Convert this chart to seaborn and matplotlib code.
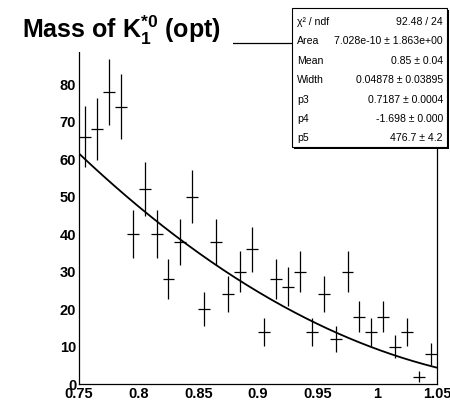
import numpy as np
import pandas as pd
import matplotlib
matplotlib.use("Agg")
import matplotlib.pyplot as plt
import seaborn as sns
from matplotlib.patches import Rectangle
from matplotlib.ticker import MultipleLocator, FixedLocator

# ---------------- data ----------------
bin_low = 0.75
bin_width = 0.01
counts = [66, 68, 78, 74, 40, 52, 40, 28, 38, 50,
          20, 38, 24, 30, 36, 14, 28, 26, 30, 14,
          24, 12, 30, 18, 14, 18, 10, 14, 2, 8]
x_ticks = [0.75, 0.8, 0.85, 0.9, 0.95, 1.0, 1.05]
x_tick_labels = ["0.75", "0.8", "0.85", "0.9", "0.95", "1", "1.05"]
y_ticks = [0, 10, 20, 30, 40, 50, 60, 70, 80]
y_tick_labels = ["0", "10", "20", "30", "40", "50", "60", "70", "80"]
stat_names = ["\u03c7\u00b2 / ndf", "Area", "Mean", "Width", "p3", "p4", "p5"]
stat_values = ["92.48 / 24", "7.028e-10 \u00b1 1.863e+00", "0.85 \u00b1 0.04",
               "0.04878 \u00b1 0.03895", "0.7187 \u00b1 0.0004",
               "-1.698 \u00b1 0.000", "476.7 \u00b1 4.2"]
title = r"Mass of K$_{1}^{*0}$ (opt)"

# background fit curve parameters (as drawn)
fit_amp = 61.5
fit_end = 1.16
fit_pow = 2.012
x_min, x_max = 0.75, 1.05
y_max = 91.0

# ---------------- style ----------------
sns.set_theme(style="white")
plt.rcParams["font.family"] = ["Liberation Sans", "DejaVu Sans"]
plt.rcParams["mathtext.fontset"] = "custom"
plt.rcParams["mathtext.rm"] = "Liberation Sans:bold"
plt.rcParams["mathtext.it"] = "Liberation Sans:bold"
plt.rcParams["mathtext.bf"] = "Liberation Sans:bold"

W, H = 450, 401
fig = plt.figure(figsize=(W / 100, H / 100), dpi=100)
fig.patch.set_facecolor("white")

def fx(px):
    return px / W

def fy(py):
    return 1 - py / H

ax_l, ax_r, ax_t, ax_b = 79, 437, 43, 384
ax = fig.add_axes([fx(ax_l), fy(ax_b), fx(ax_r) - fx(ax_l), (ax_b - ax_t) / H])
ax.set_facecolor("white")

centers = bin_low + bin_width * (np.arange(len(counts)) + 0.5)
df = pd.DataFrame({"x": centers, "n": counts})
df["err"] = np.sqrt(df["n"])

ax.errorbar(df["x"], df["n"], xerr=bin_width / 2, yerr=df["err"], fmt="none",
            ecolor="black", elinewidth=0.9, capsize=0, zorder=3)

xf = np.linspace(x_min, x_max, 300)
yf = fit_amp * ((fit_end - xf) / (fit_end - x_min)) ** fit_pow
sns.lineplot(x=xf, y=yf, color="black", linewidth=1.3, ax=ax, zorder=4)

ax.set_xlim(x_min, x_max)
ax.set_ylim(0, y_max)
ax.xaxis.set_major_locator(FixedLocator(x_ticks))
ax.set_xticklabels(x_tick_labels)
ax.yaxis.set_major_locator(FixedLocator(y_ticks))
ax.set_yticklabels(y_tick_labels)
ax.xaxis.set_minor_locator(MultipleLocator(0.01))
ax.yaxis.set_minor_locator(MultipleLocator(2))
ax.tick_params(axis="both", which="both", direction="in", top=False, right=False,
               color="black", width=0.8)
ax.tick_params(axis="x", which="major", length=6.5, pad=2.2)
ax.tick_params(axis="x", which="minor", length=3.6)
ax.tick_params(axis="y", which="major", length=7.2, pad=2)
ax.tick_params(axis="y", which="minor", length=3.6)
for lab in ax.get_xticklabels() + ax.get_yticklabels():
    lab.set_fontweight("bold")
    lab.set_fontsize(10.5)
    lab.set_color("black")
for s in ax.spines.values():
    s.set_visible(True)
    s.set_color("black")
    s.set_linewidth(0.9)
ax.set_xlabel("")
ax.set_ylabel("")
ax.grid(False)

# title pave (white, covers frame top-left)
fig.patches.append(Rectangle((fx(0), fy(52)), fx(233), 52 / H, transform=fig.transFigure,
                             facecolor="white", edgecolor="none", zorder=5))
fig.text(fx(22), fy(38), title, ha="left", va="baseline", fontsize=18,
         fontweight="bold", color="black", zorder=6)

# stats box with shadow
bx0, bx1, by0, by1 = 292, 447, 8, 147
sh = 2
fig.patches.append(Rectangle((fx(bx0 + sh), fy(by1 + sh)), (bx1 - bx0) / W, (by1 - by0) / H,
                             transform=fig.transFigure, facecolor="black", edgecolor="none", zorder=5))
fig.patches.append(Rectangle((fx(bx0), fy(by1)), (bx1 - bx0) / W, (by1 - by0) / H,
                             transform=fig.transFigure, facecolor="white", edgecolor="black",
                             linewidth=0.8, zorder=6))
row_y = [22, 41, 61, 80, 100, 119, 138]
for name, val, ry in zip(stat_names, stat_values, row_y):
    fig.text(fx(297), fy(ry), name, ha="left", va="center", fontsize=7.6, color="black", zorder=7)
    fig.text(fx(443), fy(ry), val, ha="right", va="center", fontsize=7.6, color="black", zorder=7)

fig.savefig("out.png", dpi=100)
